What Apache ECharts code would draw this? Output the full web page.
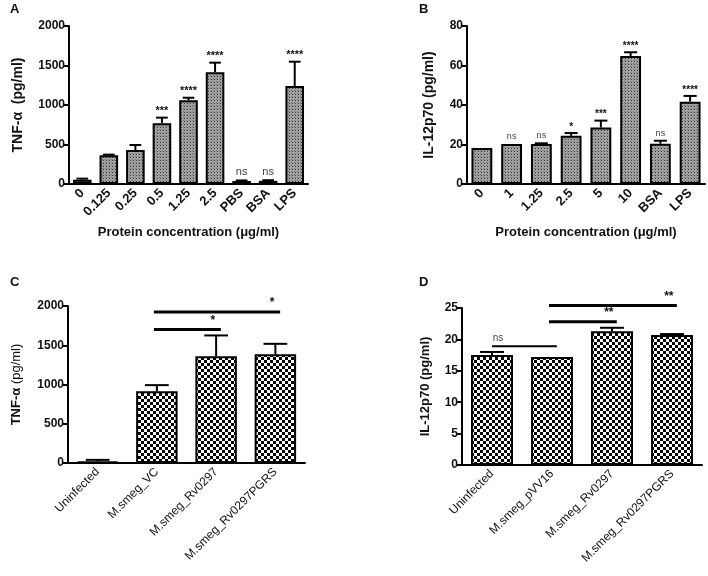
<!DOCTYPE html>
<html><head><meta charset="utf-8">
<script src="https://cdn.jsdelivr.net/npm/echarts@6/dist/echarts.min.js"></script>
<style>html,body{margin:0;padding:0;background:#fff}#c{width:708px;height:576px}</style>
</head><body><div id="c"></div>
<script>
// ---- data ----
const catsA = ['0','0.125','0.25','0.5','1.25','2.5','PBS','BSA','LPS'];
const valsA = [55, 365, 430, 770, 1060, 1415, 38, 40, 1240];
const errA  = [68, 372, 494, 840, 1092, 1536, 45, 48, 1548];
const sigA  = ['', '', '', '***', '****', '****', 'ns', 'ns', '****'];
const ticksA = [0, 500, 1000, 1500, 2000];

const catsB = ['0','1','1.25','2.5','5','10','BSA','LPS'];
const valsB = [18.2, 20.3, 20.3, 24.4, 28.6, 64.8, 20.4, 41.7];
const errB  = [18.4, 20.4, 20.6, 25.8, 32.1, 66.7, 21.9, 44.6];
const sigB  = ['', 'ns', 'ns', '*', '***', '****', 'ns', '****'];
const ticksB = [0, 20, 40, 60, 80];

const catsC = ['Uninfected','M.smeg_VC','M.smeg_Rv0297','M.smeg_Rv0297PGRS'];
const valsC = [20, 913, 1360, 1385];
const errC  = [40, 992, 1625, 1518];
const brC   = [[1, 1700, 2], [1, 1922, 3]];   // [from, y, to]
const brCtxt = ['*', '*'];
const ticksC = [0, 500, 1000, 1500, 2000];

const catsD = ['Uninfected','M.smeg_pVV16','M.smeg_Rv0297','M.smeg_Rv0297PGRS'];
const valsD = [17.5, 17.2, 21.3, 20.7];
const errD  = [18.0, 17.25, 21.85, 20.85];
const brD   = [[0, 18.9, 1], [1, 22.8, 2], [1, 25.4, 3]];
const brDtxt = ['ns', '**', '**'];
const ticksD = [0, 5, 10, 15, 20, 25];

// ---- patterns ----
function finePattern(){
  const c = document.createElement('canvas'); c.width = 3; c.height = 3;
  const g = c.getContext('2d');
  g.fillStyle = '#a2a2a2'; g.fillRect(0,0,3,3);
  g.fillStyle = '#333'; g.fillRect(1,1,1,1);
  g.fillStyle = '#777'; g.fillRect(0,0,1,1);
  return c;
}
function checkPattern(){
  const c = document.createElement('canvas'); c.width = 6; c.height = 6;
  const g = c.getContext('2d');
  g.fillStyle = '#fff'; g.fillRect(0,0,6,6);
  g.fillStyle = '#000'; g.fillRect(0,0,3,3); g.fillRect(3,3,3,3);
  return c;
}
const fineFill = {image: finePattern(), repeat: 'repeat'};
const checkFill = {image: checkPattern(), repeat: 'repeat'};

const FONT = '"Liberation Sans", Arial, sans-serif';

function xAxisCfg(idx, cats, name, bold, fs){
  return {
    type: 'category', gridIndex: idx, data: cats,
    axisLine: {lineStyle: {color: '#000', width: 2}},
    axisTick: {alignWithLabel: true, length: 5, lineStyle: {color: '#000', width: 2}},
    axisLabel: {rotate: 45, margin: 7, color: '#111', fontFamily: FONT, fontSize: fs, fontWeight: bold ? 'bold' : 'normal', interval: 0},
    name: name, nameLocation: 'middle', nameGap: 42,
    nameTextStyle: {color: '#111', fontFamily: FONT, fontSize: 13, fontWeight: 'bold'}
  };
}
function yAxisCfg(idx, ticks, name, gap, fs, rich){
  const step = ticks[1] - ticks[0];
  return {
    type: 'value', gridIndex: idx, min: ticks[0], max: ticks[ticks.length-1], interval: step,
    axisLine: {show: true, lineStyle: {color: '#000', width: 2}},
    axisTick: {show: true, length: 5, lineStyle: {color: '#000', width: 2}},
    splitLine: {show: false},
    axisLabel: {margin: 4, color: '#111', fontFamily: FONT, fontSize: 12, fontWeight: 'bold', formatter: v => String(v)},
    name: name, nameLocation: 'middle', nameGap: gap, nameRotate: 90,
    nameTextStyle: Object.assign({color: '#111', fontFamily: FONT, fontSize: fs, fontWeight: 'bold'}, rich ? {rich: rich} : {})
  };
}
function barSeries(idx, vals, fill){
  return {
    type: 'bar', xAxisIndex: idx, yAxisIndex: idx, data: vals, barWidth: '70%',
    itemStyle: {color: fill, borderColor: '#000', borderWidth: 2},
    silent: true, animation: false, z: 2
  };
}
function errSeries(idx, vals, errs, sig, capFrac, sigOpts){
  return {
    type: 'custom', xAxisIndex: idx, yAxisIndex: idx, z: 3, animation: false, silent: true,
    data: vals.map((v, i) => [i, v, errs[i]]),
    encode: {x: 0, y: 1},
    renderItem: function(params, api){
      const i = api.value(0);
      const p1 = api.coord([i, api.value(1)]);
      const p2 = api.coord([i, api.value(2)]);
      const bw = api.size([1, 0])[0];
      const half = bw * capFrac;
      const ch = [];
      if (p1[1] - p2[1] > 0.5) {
        ch.push({type: 'line', shape: {x1: p1[0], y1: p1[1], x2: p2[0], y2: p2[1]}, style: {stroke: '#000', lineWidth: 2}});
        ch.push({type: 'line', shape: {x1: p2[0]-half, y1: p2[1], x2: p2[0]+half, y2: p2[1]}, style: {stroke: '#000', lineWidth: 2}});
      }
      const s = sig ? sig[params.dataIndex] : '';
      if (s) {
        const isNs = s === 'ns';
        ch.push({type: 'text', x: p2[0], y: p2[1] - (isNs ? 3 : 1), style: {
          text: s, textAlign: 'center', textVerticalAlign: 'bottom',
          fill: isNs ? '#444' : '#111', font: (isNs ? 'normal ' + sigOpts.ns : 'bold ' + sigOpts.star) + 'px ' + FONT
        }});
      }
      return {type: 'group', children: ch};
    }
  };
}
function bracketSeries(idx, br, txt, widths){
  return {
    type: 'custom', xAxisIndex: idx, yAxisIndex: idx, z: 4, animation: false, silent: true, clip: false,
    data: br, encode: {x: 0, y: 1},
    renderItem: function(params, api){
      const a = api.coord([api.value(0), api.value(1)]);
      const b = api.coord([api.value(2), api.value(1)]);
      const bw = api.size([1, 0])[0];
      const t = txt[params.dataIndex];
      const isNs = t === 'ns';
      const x1 = a[0] - (isNs ? 0 : bw * 0.05);
      const x2 = b[0] + bw * 0.08;
      return {type: 'group', children: [
        {type: 'line', shape: {x1: x1, y1: a[1], x2: x2, y2: a[1]}, style: {stroke: '#000', lineWidth: widths[params.dataIndex]}},
        {type: 'text', x: isNs ? x1 + 6 : x2 - 8, y: a[1] - 3, style: {
          text: t, textAlign: 'center', textVerticalAlign: 'bottom',
          fill: isNs ? '#444' : '#111', font: (isNs ? 'normal 10px ' : 'bold 12px ') + FONT}}
      ]};
    }
  };
}

const chart = echarts.init(document.getElementById('c'), null, {renderer: 'canvas'});
chart.setOption({
  animation: false,
  backgroundColor: '#fff',
  grid: [
    {left: 69, top: 26, width: 239, height: 158},
    {left: 467, top: 26, width: 238, height: 158},
    {left: 68, top: 306, width: 237, height: 157},
    {left: 462, top: 308, width: 240, height: 157}
  ],
  xAxis: [
    xAxisCfg(0, catsA, 'Protein concentration (\u03bcg/ml)', true, 13),
    xAxisCfg(1, catsB, 'Protein concentration (\u03bcg/ml)', true, 13),
    Object.assign(xAxisCfg(2, catsC, '', false, 12), {name: ''}),
    Object.assign(xAxisCfg(3, catsD, '', false, 12), {name: ''})
  ],
  yAxis: [
    yAxisCfg(0, ticksA, 'TNF-\u03b1  (pg/ml)', 44, 14),
    yAxisCfg(1, ticksB, 'IL-12p70 (pg/ml)', 31, 14),
    Object.assign(yAxisCfg(2, ticksC, '{b|TNF-\u03b1} {n|(pg/ml)}', 45, 13,
      {b: {fontFamily: FONT, fontSize: 13, fontWeight: 'bold', color: '#111'}, n: {fontFamily: FONT, fontSize: 13, fontWeight: 'normal', color: '#111'}})),
    yAxisCfg(3, ticksD, 'IL-12p70 (pg/ml)', 30, 13)
  ],
  graphic: [
    {type: 'text', left: 10, top: 3, style: {text: 'A', font: 'bold 13px ' + FONT, fill: '#111'}},
    {type: 'text', left: 419, top: 3, style: {text: 'B', font: 'bold 13px ' + FONT, fill: '#111'}},
    {type: 'text', left: 10, top: 276, style: {text: 'C', font: 'bold 13px ' + FONT, fill: '#111'}},
    {type: 'text', left: 419, top: 276, style: {text: 'D', font: 'bold 13px ' + FONT, fill: '#111'}}
  ],
  series: [
    barSeries(0, valsA, fineFill),
    errSeries(0, valsA, errA, sigA, 0.22, {ns: 11, star: 11}),
    barSeries(1, valsB, fineFill),
    errSeries(1, valsB, errB, sigB, 0.22, {ns: 9, star: 10}),
    barSeries(2, valsC, checkFill),
    errSeries(2, valsC, errC, null, 0.2, {}),
    bracketSeries(2, brC, brCtxt, [3, 3]),
    barSeries(3, valsD, checkFill),
    errSeries(3, valsD, errD, null, 0.2, {}),
    bracketSeries(3, brD, brDtxt, [2, 3, 3])
  ]
});
</script></body></html>
